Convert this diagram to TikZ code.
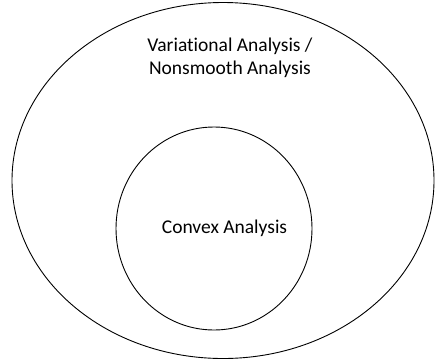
\documentclass[tikz,border=0pt]{standalone}
\usepackage{fontspec}
\setmainfont[Ligatures=NoCommon]{Carlito}
\begin{document}
\begin{tikzpicture}[x=1pt,y=-1pt,
  ring/.style={draw=black,line width=0.9pt},
  lbl/.style={font=\fontsize{19.5}{23.5}\selectfont,align=center}]
\useasboundingbox (0,0) rectangle (436,362);
\draw[ring] (223,180.5) ellipse [x radius=211, y radius=178];
\draw[ring] (214,228.5) ellipse [x radius=98, y radius=101.5];
\node[lbl] (outer) at (230,58) {Variational Analysis /\\Nonsmooth Analysis};
\node[lbl] (inner) at (224.5,228) {Convex Analysis};
\end{tikzpicture}
\end{document}
